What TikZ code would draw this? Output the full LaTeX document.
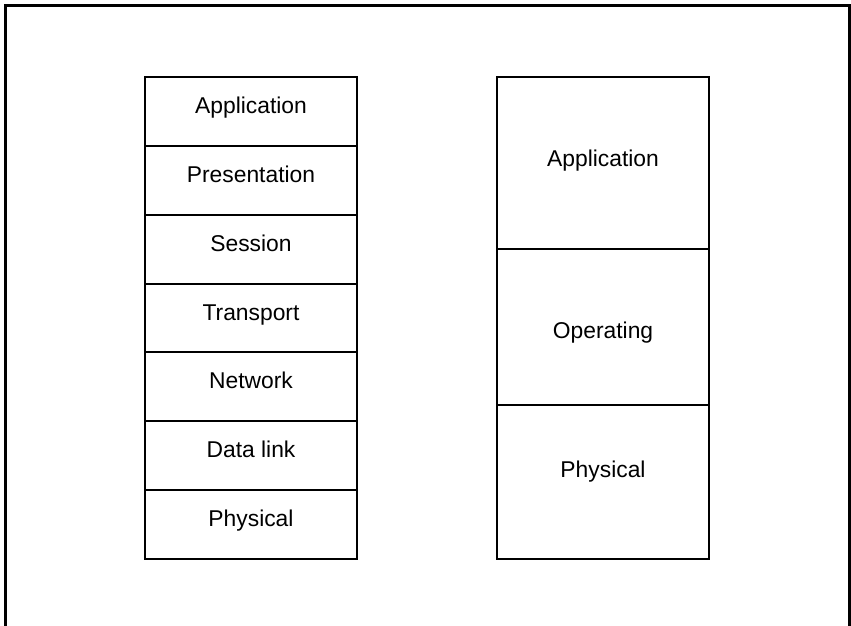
\documentclass[tikz,border=0pt]{standalone}
\usepackage{fontspec}
\setmainfont{Liberation Sans}
\tikzset{
  layer/.style={font=\fontsize{13}{15}\selectfont, anchor=base},
  stackline/.style={line width=1.1pt},
}
\begin{document}
\begin{tikzpicture}[x=0.02cm,y=-0.02cm]
            \clip (0,0) rectangle (851,625);
            \draw[line width=1.7pt] (5.5,640) -- (5.5,5.5) -- (849.5,5.5) -- (849.5,640);
            % seven layer stack
            \draw[stackline] (145,77) rectangle (357,559);
            \foreach \k in {1,...,6}
                \draw[stackline] (145,77+68.86*\k) -- (357,77+68.86*\k);
            \foreach \t [count=\k from 0] in {Application,Presentation,Session,Transport,Network,Data link,Physical}
                \node[layer] (osi\k) at (251,113.5+68.86*\k) {\t};
            % three layer stack
            \draw[stackline] (497,77) rectangle (709,559);
            \draw[stackline] (497,249) -- (709,249);
            \draw[stackline] (497,405) -- (709,405);
            \node[layer] (app) at (603,166) {Application};
            \node[layer] (os) at (603,338) {Operating};
            \node[layer] (phys) at (603,477) {Physical};
        \end{tikzpicture}
\end{document}
